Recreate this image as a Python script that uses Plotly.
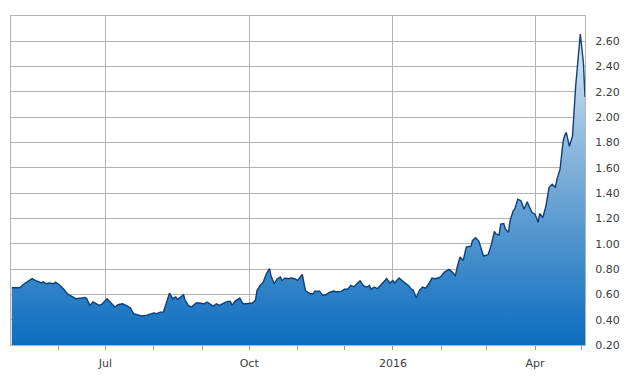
import plotly.graph_objects as go

dates = [
    "2015-05-02", "2015-05-07", "2015-05-10", "2015-05-13", "2015-05-15", "2015-05-17",
    "2015-05-19", "2015-05-21", "2015-05-22", "2015-05-24", "2015-05-26", "2015-05-29",
    "2015-05-30", "2015-06-01", "2015-06-04", "2015-06-07", "2015-06-10", "2015-06-12",
    "2015-06-16", "2015-06-18", "2015-06-19", "2015-06-21", "2015-06-23", "2015-06-25",
    "2015-06-27", "2015-06-29", "2015-07-02", "2015-07-04", "2015-07-07", "2015-07-09",
    "2015-07-12", "2015-07-15", "2015-07-17", "2015-07-19", "2015-07-22", "2015-07-24",
    "2015-07-27", "2015-07-30", "2015-08-01", "2015-08-03", "2015-08-05", "2015-08-07",
    "2015-08-09", "2015-08-11", "2015-08-13", "2015-08-15", "2015-08-16", "2015-08-18",
    "2015-08-20", "2015-08-21", "2015-08-23", "2015-08-25", "2015-08-28", "2015-08-30",
    "2015-09-02", "2015-09-04", "2015-09-06", "2015-09-08", "2015-09-10", "2015-09-12",
    "2015-09-15", "2015-09-17", "2015-09-19", "2015-09-20", "2015-09-22", "2015-09-25",
    "2015-09-27", "2015-09-29", "2015-10-03", "2015-10-05", "2015-10-06", "2015-10-08",
    "2015-10-10", "2015-10-12", "2015-10-14", "2015-10-15", "2015-10-17", "2015-10-19",
    "2015-10-21", "2015-10-22", "2015-10-24", "2015-10-26", "2015-10-28", "2015-10-30",
    "2015-11-01", "2015-11-02", "2015-11-04", "2015-11-06", "2015-11-09", "2015-11-11",
    "2015-11-12", "2015-11-15", "2015-11-17", "2015-11-19", "2015-11-21", "2015-11-24",
    "2015-11-26", "2015-11-29", "2015-12-01", "2015-12-03", "2015-12-05", "2015-12-07",
    "2015-12-09", "2015-12-11", "2015-12-13", "2015-12-15", "2015-12-17", "2015-12-18",
    "2015-12-20", "2015-12-22", "2015-12-24", "2015-12-26", "2015-12-28", "2015-12-30",
    "2016-01-01", "2016-01-02", "2016-01-05", "2016-01-08", "2016-01-11", "2016-01-13",
    "2016-01-14", "2016-01-16", "2016-01-18", "2016-01-20", "2016-01-22", "2016-01-24",
    "2016-01-26", "2016-01-28", "2016-01-30", "2016-02-01", "2016-02-03", "2016-02-06",
    "2016-02-08", "2016-02-10", "2016-02-11", "2016-02-13", "2016-02-15", "2016-02-17",
    "2016-02-20", "2016-02-21", "2016-02-23", "2016-02-25", "2016-02-27", "2016-02-28",
    "2016-03-02", "2016-03-04", "2016-03-06", "2016-03-07", "2016-03-09", "2016-03-10",
    "2016-03-12", "2016-03-13", "2016-03-15", "2016-03-16", "2016-03-18", "2016-03-19",
    "2016-03-21", "2016-03-23", "2016-03-25", "2016-03-27", "2016-03-30", "2016-04-01",
    "2016-04-03", "2016-04-04", "2016-04-06", "2016-04-08", "2016-04-10", "2016-04-12",
    "2016-04-14", "2016-04-15", "2016-04-17", "2016-04-19", "2016-04-20", "2016-04-21",
    "2016-04-23", "2016-04-25", "2016-04-27", "2016-04-29", "2016-04-30", "2016-05-02",
    "2016-05-03",
]

prices = [
    0.653, 0.653, 0.684, 0.710, 0.724, 0.710,
    0.700, 0.690, 0.700, 0.684, 0.690, 0.684,
    0.697, 0.680, 0.645, 0.600, 0.580, 0.566,
    0.571, 0.576, 0.566, 0.513, 0.540, 0.529,
    0.513, 0.526, 0.566, 0.540, 0.500, 0.518,
    0.526, 0.508, 0.492, 0.448, 0.434, 0.429,
    0.434, 0.442, 0.453, 0.448, 0.460, 0.460,
    0.540, 0.610, 0.566, 0.580, 0.560, 0.580,
    0.597, 0.553, 0.513, 0.500, 0.532, 0.532,
    0.526, 0.540, 0.526, 0.508, 0.526, 0.513,
    0.532, 0.545, 0.545, 0.513, 0.547, 0.571,
    0.526, 0.526, 0.532, 0.553, 0.630, 0.670,
    0.697, 0.763, 0.803, 0.745, 0.684, 0.724,
    0.737, 0.710, 0.729, 0.724, 0.729, 0.724,
    0.710, 0.729, 0.758, 0.630, 0.605, 0.605,
    0.626, 0.626, 0.592, 0.597, 0.613, 0.626,
    0.621, 0.624, 0.640, 0.640, 0.671, 0.660,
    0.684, 0.708, 0.671, 0.658, 0.671, 0.640,
    0.658, 0.645, 0.671, 0.697, 0.724, 0.690,
    0.710, 0.690, 0.729, 0.697, 0.671, 0.640,
    0.632, 0.574, 0.632, 0.658, 0.650, 0.684,
    0.729, 0.724, 0.729, 0.745, 0.776, 0.797,
    0.776, 0.745, 0.808, 0.895, 0.868, 0.974,
    0.981, 1.026, 1.047, 1.021, 0.947, 0.903,
    0.913, 0.992, 1.098, 1.077, 1.069, 1.155,
    1.160, 1.116, 1.090, 1.180, 1.260, 1.273,
    1.352, 1.339, 1.273, 1.331, 1.247, 1.234,
    1.170, 1.239, 1.208, 1.300, 1.444, 1.470,
    1.444, 1.509, 1.588, 1.810, 1.855, 1.880,
    1.770, 1.850, 2.243, 2.505, 2.657, 2.427,
    2.160,
]

month_labels = ["Jul", "Oct", "2016", "Apr"]
month_ticks = ["2015-07-01", "2015-10-01", "2016-01-01", "2016-04-01"]
y_ticks = [0.20, 0.40, 0.60, 0.80, 1.00, 1.20, 1.40, 1.60, 1.80, 2.00, 2.20, 2.40, 2.60]

fig = go.Figure()
fig.add_trace(go.Scatter(
    x=dates, y=prices, mode="lines",
    line=dict(color="#0d3f80", width=1.4),
    fill="tozeroy",
    fillgradient=dict(
        type="vertical",
        start=0.2, stop=2.8,
        colorscale=[[0, "#0a6cbf"], [0.5, "#76aad6"], [1, "#e8f1f8"]],
    ),
    hoverinfo="skip",
    showlegend=False,
))

fig.update_layout(
    width=630, height=380,
    margin=dict(l=10, r=42, t=16, b=34),
    paper_bgcolor="white", plot_bgcolor="white",
    font=dict(family="DejaVu Sans", size=11, color="#3d3d3d"),
    xaxis=dict(
        type="date",
        range=["2015-05-01 12:00", "2016-05-03"],
        tickvals=month_ticks, ticktext=month_labels,
        ticks="outside", ticklen=4, tickcolor="#999999", tickwidth=1,
        showgrid=True, gridcolor="#b3b3b3", gridwidth=1.2,
        showline=True, linecolor="#b3b3b3", linewidth=1.2, mirror=True,
        minor=dict(dtick="M1", tick0="2015-05-01", ticks="outside", ticklen=4,
                   tickcolor="#999999", showgrid=False),
        ticklabelstandoff=4,
        zeroline=False,
    ),
    yaxis=dict(
        side="right",
        range=[0.2, 2.8],
        tickvals=y_ticks,
        tickformat=".2f",
        showgrid=True, gridcolor="#b3b3b3", gridwidth=1.2,
        showline=True, linecolor="#b3b3b3", linewidth=1.2, mirror=True,
        ticks="", ticklabelstandoff=7,
        zeroline=False,
    ),
)

fig.write_html("out.html")
